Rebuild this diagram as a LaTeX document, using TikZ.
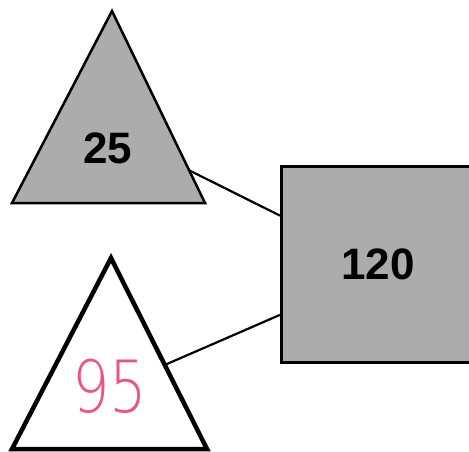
\documentclass[tikz,border=0pt]{standalone}
\usepackage{fontspec}
\usetikzlibrary{calc}
\newfontfamily\numfont{Liberation Sans}
\newfontfamily\handfont{DejaVu Sans ExtraLight}
\definecolor{shade}{RGB}{172,172,172}
\definecolor{pen}{RGB}{236,84,132}

\begin{document}
\begin{tikzpicture}[
  x=1pt, y=-1pt,
  tri/.style={draw, line width=2.5pt, fill=shade},
  opentri/.style={draw, line width=4.5pt, fill=white},
  sqbox/.style={rectangle, draw, line width=2.5pt, fill=shade, minimum width=196pt,
                minimum height=196pt, anchor=north west, inner sep=0pt},
  num/.style={font=\numfont\bfseries\fontsize{44}{44}\selectfont},
  hand/.style={text=pen, xscale=0.82, font=\handfont\fontsize{72}{72}\selectfont},
  link/.style={draw, line width=2.2pt},
]
  \useasboundingbox (0,0) rectangle (469,452);
  \clip (0,0) rectangle (469,452);

  % top triangle
  \coordinate (ta) at (112,11);
  \coordinate (tl) at (12,203);
  \coordinate (tr) at (205,203);
  \draw[tri] (ta) -- (tl) -- (tr) -- cycle;
  \node[num] (n25) at (108,148) {25};

  % bottom triangle
  \coordinate (ba) at (111,258);
  \coordinate (bl) at (12,449);
  \coordinate (br) at (207,449);
  \draw[opentri] (ba) -- (bl) -- (br) -- cycle;
  \node[hand] (n95) at (110,386) {95};

  % square
  \node[sqbox] (sq) at (280,165) {};
  \node[num] (n120) at (378,264) {120};

  % connectors
  \coordinate (ta2) at ($(ta)!0.83!(tr)$);
  \coordinate (ba2) at ($(ba)!0.56!(br)$);
  \coordinate (sqa) at ($(sq.north west)!0.255!(sq.south west)$);
  \coordinate (sqb) at ($(sq.north west)!0.755!(sq.south west)$);
  \draw[link] (ta2) -- (sqa);
  \draw[link] (ba2) -- (sqb);
\end{tikzpicture}
\end{document}
